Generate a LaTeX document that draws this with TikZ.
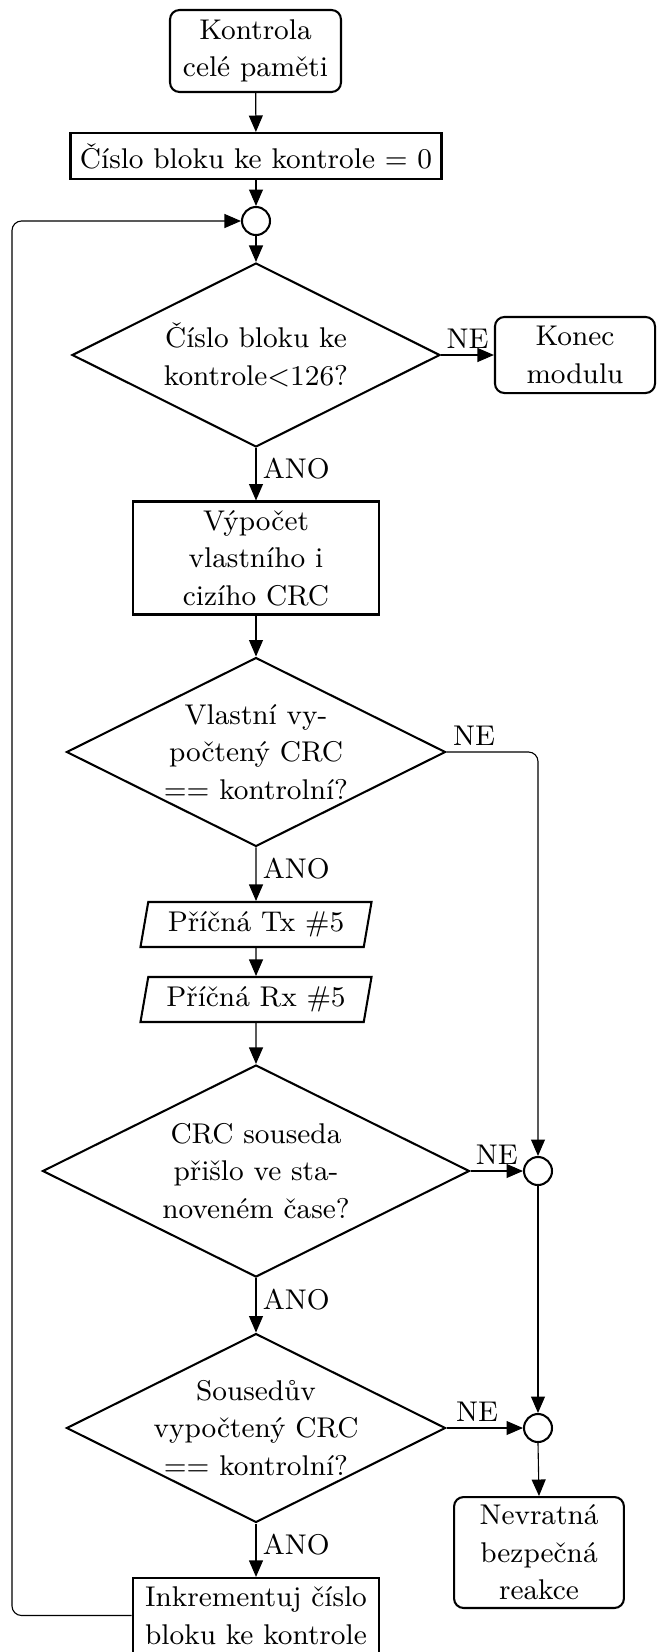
\documentclass[tikz,border=0pt]{standalone}
\usetikzlibrary{shapes.geometric,arrows.meta}
\tikzset{
  every node/.style={font=\fontsize{9pt}{11.8pt}\selectfont},
  base/.style={draw, line width=0.65pt, inner sep=0pt, align=center},
  procbox/.style={base, rectangle},
  termbox/.style={base, rectangle, rounded corners=3pt},
  decbox/.style={base, diamond},
  iobox/.style={base, trapezium, trapezium left angle=73, trapezium right angle=107, trapezium stretches body},
  junc/.style={base, circle, minimum size=8.83pt},
  txt/.style={align=center, inner sep=0pt},
  conn/.style={line width=0.35pt, -{Triangle[length=5.2pt,width=4.4pt]}},
  lbl/.style={inner sep=2pt}
}
\begin{document}
\begin{tikzpicture}[x=0.3155pt,y=-0.3155pt]
\useasboundingbox (0,0) rectangle (657,1652);
\node[termbox, minimum width=53.95pt, minimum height=25.87pt] (start) at (255.5,51) {Kontrola\\celé paměti};
\node[procbox, minimum width=117.05pt, minimum height=14.51pt] (b2) at (256,156) {Číslo bloku ke kontrole = 0};
\node[junc] (c1) at (256,221) {};
\node[decbox, minimum width=116.1pt, minimum height=58.05pt] (d1) at (256,355) {};
\node[txt] (d1t) at (d1) {Číslo bloku ke\\kontrole$<$126?};
\node[termbox, minimum width=50.5pt, minimum height=24pt] (konec) at (575,355) {Konec\\modulu};
\node[procbox, minimum width=77.9pt, minimum height=35.65pt] (b3) at (256,558) {Výpočet\\vlastního i\\cizího CRC};
\node[decbox, minimum width=119.6pt, minimum height=59.6pt] (d2) at (256,752) {};
\node[txt] (d2t) at (d2) {Vlastní vy-\\počtený CRC\\== kontrolní?};
\node[iobox, minimum width=72.9pt, minimum height=14.2pt] (p1) at (256,924.5) {Příčná Tx \#5};
\node[iobox, minimum width=72.9pt, minimum height=14.2pt] (p2) at (256,999.5) {Příčná Rx \#5};
\node[decbox, minimum width=134.7pt, minimum height=66.9pt] (d3) at (256,1171) {};
\node[txt] (d3t) at (d3) {CRC souseda\\přišlo ve sta-\\noveném čase?};
\node[junc] (c2) at (538,1171) {};
\node[decbox, minimum width=119.6pt, minimum height=59.6pt] (d4) at (256,1428) {};
\node[txt] (d4t) at (d4) {Sousedův\\vypočtený CRC\\== kontrolní?};
\node[junc] (c3) at (538,1428) {};
\node[termbox, minimum width=53.6pt, minimum height=35pt] (nev) at (539,1552.5) {Nevratná\\bezpečná\\reakce};
\node[procbox, minimum width=77.9pt, minimum height=23.7pt] (inc) at (256,1615.5) {Inkrementuj číslo\\bloku ke kontrole};
\coordinate (lt) at (12,221);

\draw[conn] (start) -- (b2);
\draw[conn] (b2) -- (c1);
\draw[conn] (c1) -- (d1.north);
\draw[conn] (d1.east) -- node[above, lbl] {NE} (konec.west);
\draw[conn] (d1.south) -- node[right, lbl, pos=0.4] {ANO} (b3);
\draw[conn] (b3) -- (d2.north);
\draw[conn, rounded corners=3pt] (d2.east) -| node[above, lbl, pos=0.15] {NE} (c2.north);
\draw[conn] (d2.south) -- node[right, lbl, pos=0.4] {ANO} (p1);
\draw[conn] (p1) -- (p2);
\draw[conn] (p2) -- (d3.north);
\draw[conn] (d3.east) -- node[above, lbl] {NE} (c2.west);
\draw[conn] (d3.south) -- node[right, lbl, pos=0.4] {ANO} (d4.north);
\draw[conn] (c2.south) -- (c3.north);
\draw[conn] (d4.east) -- node[above, lbl, pos=0.4] {NE} (c3.west);
\draw[conn] (d4.south) -- node[right, lbl, pos=0.4] {ANO} (inc);
\draw[conn] (c3.south) -- (nev.north);
\draw[conn, rounded corners=3pt] (inc.west) -| (lt) -- (c1.west);
\end{tikzpicture}
\end{document}
